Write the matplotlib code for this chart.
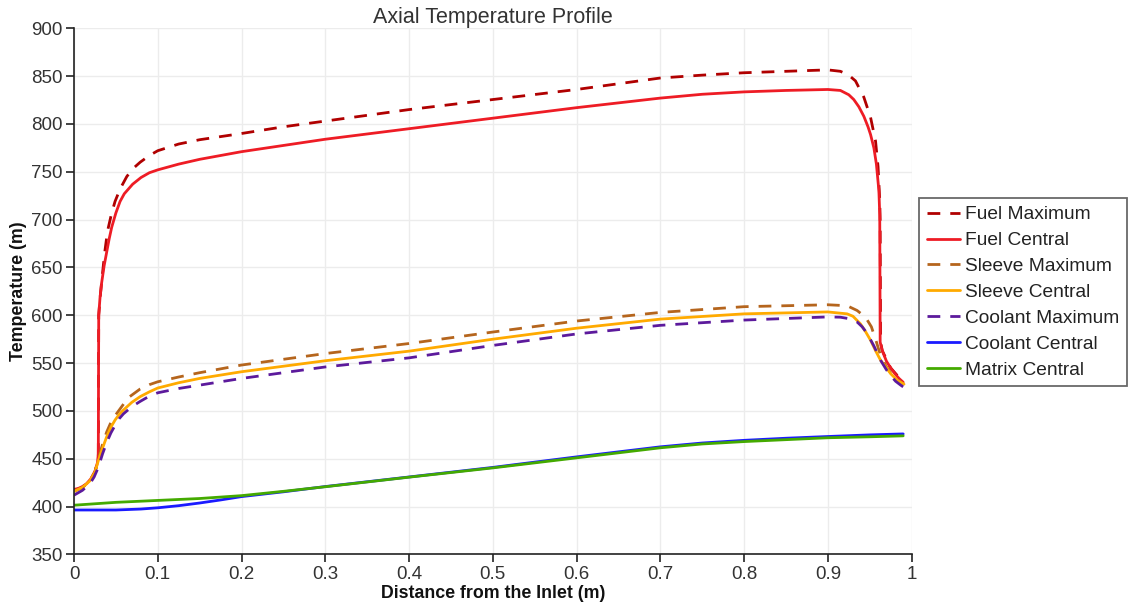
import matplotlib
matplotlib.use("Agg")
import matplotlib.pyplot as plt

plt.rcParams['font.family'] = ['Liberation Sans', 'DejaVu Sans']

# Axial positions (m) and temperatures for each profile
fuel_max_x = [0, 0.01, 0.02, 0.025, 0.028, 0.029, 0.0295, 0.031, 0.033, 0.035, 0.037, 0.04,
              0.045, 0.049, 0.055, 0.063, 0.07, 0.079, 0.09, 0.1, 0.125, 0.15, 0.2, 0.25,
              0.3, 0.4, 0.5, 0.6, 0.7, 0.75, 0.8, 0.85, 0.9, 0.915, 0.925, 0.933, 0.943,
              0.951, 0.957, 0.96, 0.962, 0.9625, 0.963, 0.965, 0.975, 0.99]
fuel_max_t = [417, 420, 428, 436, 446, 452, 600, 617, 635, 652, 668, 688,
              707, 719, 732, 745, 753, 760, 767, 772, 779, 783.5, 790, 797,
              803, 815, 825.5, 836, 848, 851, 853.5, 855, 856.5, 855, 851, 845, 828,
              807, 782, 755, 720, 700, 572, 563, 545, 530]

fuel_cen_x = [0, 0.005, 0.01, 0.015, 0.02, 0.025, 0.028, 0.029, 0.0295, 0.031, 0.033, 0.036,
              0.039, 0.042, 0.045, 0.05, 0.055, 0.06, 0.07, 0.08, 0.09, 0.1, 0.125, 0.15,
              0.2, 0.3, 0.4, 0.5, 0.6, 0.7, 0.75, 0.8, 0.85, 0.9, 0.915, 0.925, 0.931,
              0.937, 0.943, 0.948, 0.951, 0.955, 0.958, 0.961, 0.962, 0.9625, 0.965, 0.97,
              0.975, 0.98, 0.985, 0.99]
fuel_cen_t = [418, 419, 421, 424, 429, 437, 446, 455, 600, 618, 634, 652,
              666, 680, 692, 707, 719, 727, 737, 744, 749, 752, 758, 763,
              771, 784, 795, 806, 817, 827, 831, 833.5, 835, 836, 835, 830.5, 825.5,
              818, 808, 797, 789, 775, 758, 730, 705, 572, 563, 552,
              545, 539, 534, 530]

sleeve_max_x = [0, 0.01, 0.019, 0.025, 0.029, 0.034, 0.039, 0.044, 0.049, 0.059, 0.065,
                0.079, 0.09, 0.1, 0.125, 0.15, 0.2, 0.3, 0.4, 0.5, 0.6, 0.7, 0.8, 0.9,
                0.923, 0.935, 0.945, 0.952, 0.957, 0.963, 0.97, 0.975, 0.983, 0.99]
sleeve_max_t = [416, 420, 427, 436, 450, 465, 478, 488, 495, 507, 514,
                523, 527.5, 530.5, 535.5, 540, 548, 560, 570.5, 582.5, 594, 603, 609, 611,
                610, 605, 598, 588, 575, 558, 546, 540, 533, 528]

sleeve_cen_x = [0, 0.01, 0.019, 0.025, 0.029, 0.034, 0.039, 0.044, 0.049, 0.054, 0.059,
                0.069, 0.079, 0.09, 0.1, 0.125, 0.15, 0.2, 0.3, 0.4, 0.5, 0.6, 0.7, 0.8,
                0.9, 0.923, 0.93, 0.939, 0.945, 0.951, 0.957, 0.963, 0.97, 0.975, 0.983,
                0.991]
sleeve_cen_t = [416, 420, 427, 436, 448, 461, 473, 483, 490.5, 496.5, 501,
                509, 515, 520, 524, 529.5, 534, 541, 552.5, 562.5, 575, 586.5, 596, 601.5,
                603.5, 601.5, 599, 591, 583, 574, 563, 553, 545, 539, 532,
                528]

coolant_max_x = [0, 0.01, 0.019, 0.024, 0.029, 0.034, 0.039, 0.044, 0.049, 0.054, 0.059,
                 0.069, 0.079, 0.09, 0.1, 0.125, 0.15, 0.2, 0.3, 0.4, 0.5, 0.6, 0.7, 0.8,
                 0.9, 0.915, 0.925, 0.935, 0.941, 0.947, 0.955, 0.963, 0.97, 0.975, 0.981,
                 0.987, 0.992]
coolant_max_t = [412, 417, 424, 431, 441, 455, 467, 477, 485, 492, 497,
                 504.5, 510, 515.5, 519, 523.5, 527, 534, 546, 555.5, 568.5, 580.5, 589.5, 595,
                 598.3, 598, 596.5, 593, 588, 581, 568, 553, 543, 537, 531,
                 527, 524]

coolant_cen_x = [0, 0.05, 0.08, 0.1, 0.125, 0.15, 0.175, 0.2, 0.25, 0.3, 0.4, 0.5, 0.6,
                 0.7, 0.75, 0.8, 0.85, 0.9, 0.95, 0.99]
coolant_cen_t = [396.5, 396.5, 397.5, 398.8, 401, 403.8, 407, 410.5, 415.5, 421, 431, 441, 452,
                 462.5, 466.5, 469.3, 471.5, 473.3, 475, 476]

matrix_cen_x = [0, 0.05, 0.1, 0.15, 0.2, 0.25, 0.3, 0.4, 0.5, 0.6, 0.7, 0.75, 0.8, 0.85,
                0.9, 0.95, 0.99]
matrix_cen_t = [401.5, 404.5, 406.5, 408.5, 411.5, 416, 420.8, 430.8, 440.5, 451, 461.5, 465.5,
                468, 470, 472, 473, 474]

x_ticks = [0, 0.1, 0.2, 0.3, 0.4, 0.5, 0.6, 0.7, 0.8, 0.9, 1]
x_tick_labels = ['0', '0.1', '0.2', '0.3', '0.4', '0.5', '0.6', '0.7', '0.8', '0.9', '1']
y_ticks = [350, 400, 450, 500, 550, 600, 650, 700, 750, 800, 850, 900]

series = [
    ("Fuel Maximum", fuel_max_x, fuel_max_t, "#b00000", True),
    ("Fuel Central", fuel_cen_x, fuel_cen_t, "#ee1c25", False),
    ("Sleeve Maximum", sleeve_max_x, sleeve_max_t, "#b5651d", True),
    ("Sleeve Central", sleeve_cen_x, sleeve_cen_t, "#ffaa00", False),
    ("Coolant Maximum", coolant_max_x, coolant_max_t, "#5c1a9c", True),
    ("Coolant Central", coolant_cen_x, coolant_cen_t, "#1a1aff", False),
    ("Matrix Central", matrix_cen_x, matrix_cen_t, "#44aa00", False),
]

fig = plt.figure(figsize=(11.3, 6.05), dpi=100)
ax = fig.add_axes([0.0655, 0.0835, 0.7412, 0.8698])

for label, xs, ts, color, dashed in series:
    line, = ax.plot(xs, ts, color=color, lw=2.0, label=label,
                    solid_joinstyle='round', solid_capstyle='round')
    if dashed:
        line.set_dashes((4.6, 3.6))
        line.set_dash_capstyle('butt')

ax.set_xlim(0, 1)
ax.set_ylim(350, 900)
ax.set_xticks(x_ticks)
ax.set_xticklabels(x_tick_labels)
ax.set_yticks(y_ticks)

ax.grid(True, color='#ececec', lw=1.0)
ax.set_axisbelow(True)
for side in ('top', 'right'):
    ax.spines[side].set_visible(False)
for side in ('left', 'bottom'):
    ax.spines[side].set_color('#222222')
    ax.spines[side].set_linewidth(1.2)

ax.tick_params(axis='both', direction='out', length=6, width=1.2, color='#222222',
               labelsize=13.5, labelcolor='#333333', pad=2)

ax.set_title("Axial Temperature Profile", fontsize=15.5, color='#333333', pad=0.5)
ax.set_xlabel("Distance from the Inlet (m)", fontsize=12.8, fontweight='bold',
              color='#111111', labelpad=2)
ax.set_ylabel("Temperature (m)", fontsize=12.8, fontweight='bold', color='#111111',
              labelpad=3)

leg = fig.legend(loc='upper left', bbox_to_anchor=(0.8135, 0.6722), fontsize=13.8,
                 frameon=True, fancybox=False, borderpad=0.4, handlelength=1.7,
                 handletextpad=0.28, labelspacing=0.44, borderaxespad=0)
leg.get_frame().set_edgecolor('#444444')
leg.get_frame().set_linewidth(1.3)
for txt in leg.get_texts():
    txt.set_color('#222222')

fig.savefig("out.png", dpi=100)
